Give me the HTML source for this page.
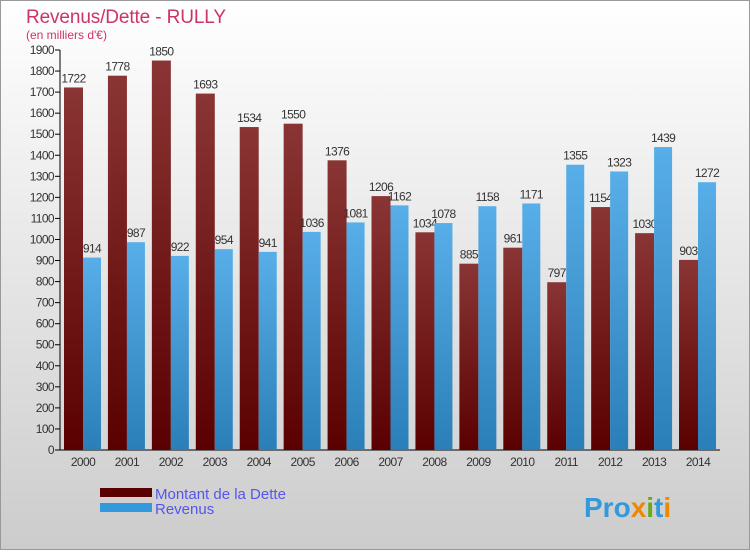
<!DOCTYPE html>
<html><head><meta charset="utf-8"><style>
body{margin:0;width:750px;height:550px;overflow:hidden;font-family:"Liberation Sans",sans-serif}
</style></head><body>
<svg width="750" height="550" xmlns="http://www.w3.org/2000/svg">
<defs>
<linearGradient id="bg" x1="0" y1="0" x2="0" y2="1"><stop offset="0" stop-color="#ffffff"/><stop offset="1" stop-color="#cccccc"/></linearGradient>
<linearGradient id="red" x1="0" y1="0" x2="0" y2="1"><stop offset="0" stop-color="#8a3535"/><stop offset="1" stop-color="#5a0000"/></linearGradient>
<linearGradient id="blue" x1="0" y1="0" x2="0" y2="1"><stop offset="0" stop-color="#58aee8"/><stop offset="1" stop-color="#2a7fb8"/></linearGradient>
</defs>
<rect x="0.5" y="0.5" width="749" height="549" fill="url(#bg)" stroke="#999"/>
<text x="26" y="23" font-size="19" fill="#cc3366" textLength="200">Revenus/Dette - RULLY</text>
<text x="26" y="39" font-size="12" fill="#cc3366">(en milliers d'€)</text>
<g id="axes"></g>
<g id="bars"></g>
<rect x="100" y="488" width="52" height="9" fill="#5a0000"/>
<text x="155" y="499" font-size="15" fill="#5555ee">Montant de la Dette</text>
<rect x="100" y="503" width="52" height="9" fill="#3399dd"/>
<text x="155" y="514" font-size="15" fill="#5555ee">Revenus</text>
<text x="584" y="517" font-size="28" font-weight="bold" fill="#3399dd">Pro<tspan fill="#ee8800">x</tspan><tspan fill="#66aa22">i</tspan>t<tspan fill="#ee8800">i</tspan></text>
</svg>
<script>
const years=["2000","2001","2002","2003","2004","2005","2006","2007","2008","2009","2010","2011","2012","2013","2014"];
const dette=[1722,1778,1850,1693,1534,1550,1376,1206,1034,885,961,797,1154,1030,903];
const revenus=[914,987,922,954,941,1036,1081,1162,1078,1158,1171,1355,1323,1439,1272];
const yTicks=[0,100,200,300,400,500,600,700,800,900,1000,1100,1200,1300,1400,1500,1600,1700,1800,1900];
const NS="http://www.w3.org/2000/svg";
const y0=450,yMax=1900,ph=400,x0=60,step=43.93,c0=83;
const Y=v=>y0-v/yMax*ph;
const X=i=>c0+i*step;
function mk(t,a,p){const e=document.createElementNS(NS,t);for(const k in a)e.setAttribute(k,a[k]);p.appendChild(e);return e;}
const ax=document.getElementById('axes'),bg=document.getElementById('bars');
const lbl={'font-size':12,'letter-spacing':'-0.6',fill:'#333'};
yTicks.forEach(v=>{
 const l=mk('line',{x1:x0-5,x2:x0,y1:Y(v),y2:Y(v),stroke:'#000'},ax);
 
 
 const t=mk('text',Object.assign({x:x0-6,y:Y(v)+4,'text-anchor':'end'},lbl),ax);t.textContent=v;
 
 
});
const ya=mk('line',{x1:x0,x2:x0,y1:Y(yMax),y2:y0,stroke:'#000'},ax);


const xa=mk('line',{x1:x0,x2:720,y1:y0,y2:y0,stroke:'#000'},ax);


years.forEach((y,i)=>{
 const t=mk('text',Object.assign({x:X(i),y:466,'text-anchor':'middle'},lbl),ax);t.textContent=y;
 
 
});
years.forEach((y,i)=>{
 const r=mk('rect',{x:X(i)-19,y:Y(dette[i]),width:19,height:y0-Y(dette[i]),fill:'url(#red)'},bg);
 
 
 const t=mk('text',Object.assign({x:X(i)-9.5,y:Y(dette[i])-5,'text-anchor':'middle'},lbl),bg);t.textContent=dette[i];
 
 
});
years.forEach((y,i)=>{
 const r=mk('rect',{x:X(i),y:Y(revenus[i]),width:18,height:y0-Y(revenus[i]),fill:'url(#blue)'},bg);
 
 
 const t=mk('text',Object.assign({x:X(i)+9,y:Y(revenus[i])-5,'text-anchor':'middle'},lbl),bg);t.textContent=revenus[i];
 
 
});
</script>
</body></html>
